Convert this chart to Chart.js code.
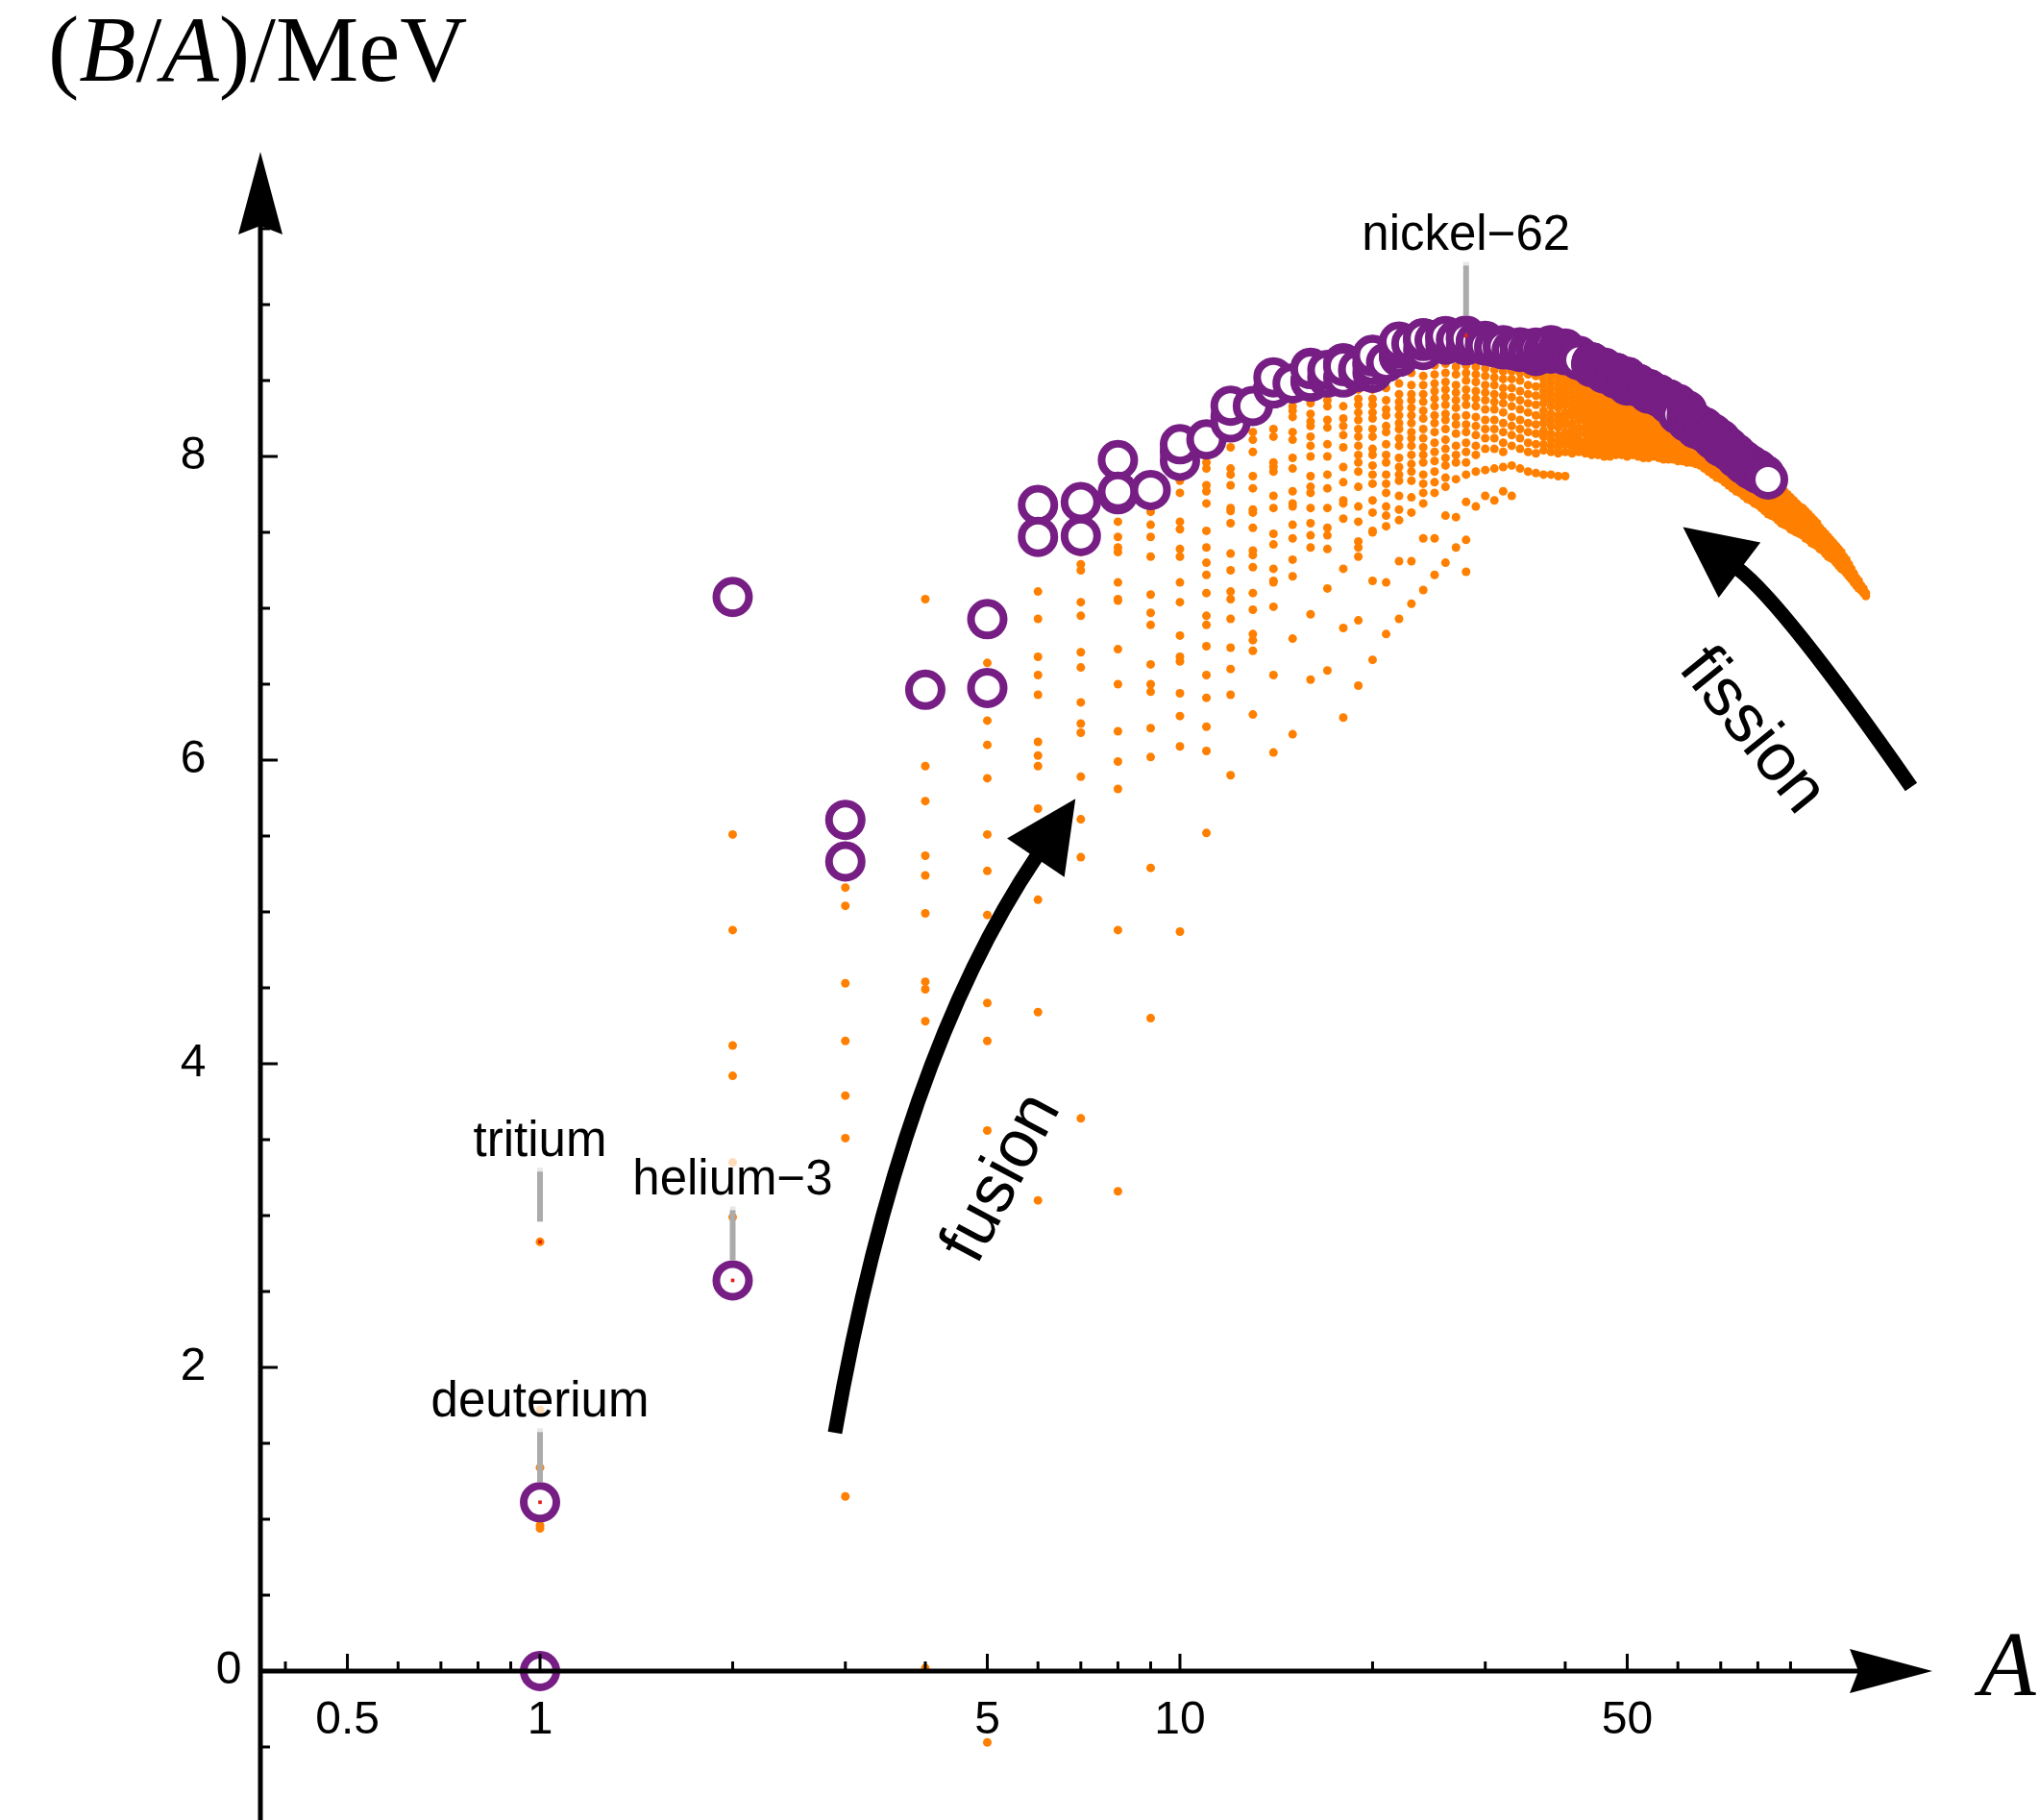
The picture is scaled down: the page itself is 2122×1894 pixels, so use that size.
<!DOCTYPE html>
<html>
<head>
<meta charset="utf-8">
<script src="https://cdn.jsdelivr.net/npm/chart.js@4.4.1/dist/chart.umd.min.js"></script>
<style>
  html, body { margin: 0; padding: 0; background: #ffffff; }
  #wrap { width: 2122px; height: 1894px; }
</style>
</head>
<body>
<div id="wrap"><canvas id="chart" width="2122" height="1894"></canvas></div>
<script>
// ── BINDING ENERGY PER NUCLEON vs Z (log axis) ──
// orange = every listed isotope, purple ring = stable isotopes, red = called-out nuclides

// ── ALL ISOTOPES, B/A in MeV, one row per element (row index = Z - 1) ──
const isotopesLight = [
  [0, 1.112, 2.827, 1.72, 1.34, 0.96, 0.94],                                   // 1
  [2.573, 7.074, 5.51, 4.88, 4.12, 3.92, 3.35, 2.99],                          // 2
  [1.15, 5.27, 5.332, 5.606, 5.16, 5.04, 4.53, 4.15, 3.79, 3.51],              // 3
  [0.02, 4.49, 5.37, 7.06, 6.463, 6.50, 5.96, 5.73, 5.24, 4.99, 4.54, 4.28],   // 4
  [6.475, 6.928, 6.64, 6.26, 6.496, 6.10, 5.88, 5.51, 5.27, 4.98, 4.40, 4.15, 3.56, -0.47], // 5
  [7.680, 7.470, 7.52, 7.11, 6.93, 6.68, 6.56, 6.43, 6.12, 6.03, 5.96, 5.68, 5.08, 4.34, 3.10], // 6
  [7.476, 7.699, 7.37, 7.29, 7.25, 7.04, 6.95, 6.71, 6.61, 6.38, 6.24, 6.18, 5.89, 5.61, 5.36, 3.64], // 7
  [7.976, 7.751, 7.767, 7.57, 7.47, 7.40, 7.37, 7.17, 7.06, 7.05, 6.73, 6.50, 6.19, 5.99, 5.81, 4.88, 3.16], // 8
  [7.779, 7.72, 7.74, 7.635, 7.55, 7.47, 7.34, 7.09, 6.97, 6.89, 6.63, 6.50, 6.45, 6.21, 6.02, 5.29, 4.30], // 9
  [8.032, 7.972, 8.080, 7.99, 7.955, 7.84, 7.76, 7.57, 7.52, 7.39, 7.34, 7.17, 7.04, 6.82, 6.68, 6.65, 6.44, 6.29, 6.09, 4.87], // 10
  [8.112, 8.06, 7.96, 7.92, 7.81, 7.77, 7.69, 7.51, 7.40, 7.30, 7.22, 7.10, 6.95, 6.89, 6.75, 6.56, 6.41, 6.22, 6.06, 5.52], // 11
  [8.261, 8.224, 8.334, 8.27, 8.06, 7.92, 7.88, 7.81, 7.66, 7.64, 7.56, 7.36, 7.25, 7.11, 7.06, 6.93, 6.74, 6.60, 6.43, 5.90], // 12
  [8.332, 8.16, 8.11, 8.03, 7.87, 7.79, 7.65, 7.63, 7.53, 7.38, 7.35, 7.27, 7.10, 6.99, 6.83, 6.79, 6.72, 6.30], // 13
  [8.448, 8.449, 8.521, 8.18, 8.13, 7.96, 7.93, 7.90, 7.74, 7.66, 7.49, 7.42, 7.26, 7.18, 7.17, 7.01, 6.56, 6.05], // 14
  [8.481, 8.33, 8.30, 8.26, 8.16, 8.11, 7.99, 7.92, 7.77, 7.69, 7.67, 7.55, 7.46, 7.32, 7.21, 6.80, 6.17], // 15
  [8.493, 8.498, 8.584, 8.575, 8.35, 8.28, 8.23, 8.20, 8.13, 8.07, 8.00, 7.87, 7.80, 7.76, 7.66, 7.56, 7.48, 7.40, 6.96, 6.53], // 16
  [8.520, 8.570, 8.37, 8.33, 8.24, 8.19, 8.08, 8.00, 7.88, 7.79, 7.66, 7.53, 7.48, 7.39, 7.13, 6.59], // 17
  [8.520, 8.614, 8.595, 8.33, 8.25, 8.20, 8.14, 8.06, 7.93, 7.83, 7.71, 7.69, 7.59, 7.26, 6.87, 6.28]  // 18
];

const isotopesMiddle = [
  [8.58, 8.56, 8.55, 8.54, 8.52, 8.44, 8.38, 8.34, 8.29, 8.24, 8.18, 8.13, 8.07, 8.01, 7.96, 7.90, 7.80, 7.67, 7.57, 7.44, 7.40, 7.34, 6.92, 6.49], // 19
  [8.67, 8.66, 8.62, 8.60, 8.55, 8.49, 8.44, 8.38, 8.34, 8.29, 8.25, 8.18, 8.13, 8.05, 8.01, 7.94, 7.88, 7.82, 7.71, 7.63, 7.51, 7.50, 7.18, 6.66], // 20
  [8.62, 8.60, 8.56, 8.52, 8.45, 8.37, 8.31, 8.27, 8.20, 8.16, 8.08, 8.01, 7.96, 7.88, 7.82, 7.76, 7.67, 7.61, 7.54, 7.17, 6.83], // 21
  [8.76, 8.72, 8.66, 8.60, 8.55, 8.48, 8.41, 8.36, 8.32, 8.27, 8.22, 8.18, 8.12, 8.07, 7.99, 7.93, 7.88, 7.84, 7.74, 7.65, 7.58, 7.31, 6.93], // 22
  [8.74, 8.70, 8.62, 8.55, 8.47, 8.41, 8.37, 8.32, 8.27, 8.22, 8.16, 8.12, 8.07, 8.01, 7.95, 7.90, 7.84, 7.73, 7.63, 7.31, 7.03], // 23
  [8.78, 8.73, 8.70, 8.66, 8.60, 8.53, 8.47, 8.41, 8.36, 8.30, 8.25, 8.18, 8.12, 8.06, 8.01, 7.96, 7.88, 7.82, 7.76, 7.69, 7.46, 7.12], // 24
  [8.77, 8.75, 8.72, 8.67, 8.60, 8.54, 8.48, 8.43, 8.38, 8.33, 8.27, 8.22, 8.16, 8.09, 8.03, 7.97, 7.90, 7.83, 7.76, 7.46, 7.22], // 25
  [8.79, 8.76, 8.74, 8.67, 8.61, 8.55, 8.49, 8.44, 8.39, 8.34, 8.28, 8.24, 8.18, 8.11, 8.05, 7.99, 7.94, 7.86, 7.80, 7.61, 7.30], // 26
  [8.77, 8.72, 8.66, 8.59, 8.54, 8.47, 8.42, 8.37, 8.32, 8.26, 8.21, 8.15, 8.07, 8.01, 7.96, 7.85, 7.60, 7.40], // 27
  [8.80, 8.78, 8.77, 8.73, 8.70, 8.65, 8.60, 8.55, 8.50, 8.44, 8.39, 8.34, 8.27, 8.21, 8.16, 8.09, 8.03, 7.96, 7.88, 7.70, 7.45, 7.24], // 28
  [8.75, 8.70, 8.64, 8.59, 8.54, 8.49, 8.43, 8.38, 8.33, 8.26, 8.20, 8.14, 8.07, 8.01, 7.90, 7.67], // 29
  [8.76, 8.74, 8.70, 8.64, 8.58, 8.53, 8.47, 8.42, 8.37, 8.31, 8.24, 8.18, 8.12, 8.05, 7.91, 7.74], // 30
  [8.72, 8.68, 8.63, 8.57, 8.52, 8.47, 8.41, 8.36, 8.31, 8.24, 8.18, 8.12, 8.05, 7.92, 7.71], // 31
  [8.72, 8.68, 8.62, 8.56, 8.51, 8.45, 8.40, 8.35, 8.29, 8.22, 8.16, 8.09, 8.03, 7.93, 7.77], // 32
  [8.70, 8.67, 8.62, 8.56, 8.51, 8.45, 8.39, 8.33, 8.26, 8.20, 8.14, 8.07, 7.94, 7.74], // 33
  [8.72, 8.70, 8.66, 8.61, 8.55, 8.50, 8.43, 8.37, 8.31, 8.24, 8.18, 8.12, 8.05, 7.92], // 34
  [8.70, 8.65, 8.60, 8.54, 8.47, 8.41, 8.35, 8.29, 8.22, 8.16, 8.09, 8.03, 7.90], // 35
  [8.72, 8.69, 8.64, 8.59, 8.53, 8.46, 8.40, 8.34, 8.27, 8.21, 8.15, 8.08, 8.02, 7.89], // 36
  [8.71, 8.70, 8.68, 8.65, 8.62, 8.58, 8.55, 8.51, 8.47, 8.43, 8.39, 8.35, 8.30, 8.26, 8.22, 8.17, 8.13, 8.08, 8.04, 7.88], // 37
  [8.73, 8.71, 8.70, 8.68, 8.65, 8.61, 8.57, 8.53, 8.49, 8.45, 8.41, 8.37, 8.33, 8.28, 8.24, 8.20, 8.15, 8.11, 8.07, 8.03, 7.88], // 38
  [8.71, 8.69, 8.66, 8.63, 8.60, 8.56, 8.52, 8.48, 8.44, 8.40, 8.36, 8.32, 8.27, 8.23, 8.19, 8.14, 8.10, 8.06, 8.02, 7.87], // 39
  [8.71, 8.69, 8.67, 8.64, 8.61, 8.58, 8.54, 8.50, 8.46, 8.42, 8.38, 8.34, 8.29, 8.25, 8.21, 8.16, 8.12, 8.08, 8.03, 7.87], // 40
  [8.66, 8.64, 8.61, 8.58, 8.54, 8.50, 8.47, 8.43, 8.39, 8.35, 8.31, 8.27, 8.22, 8.18, 8.14, 8.10, 8.06, 8.02], // 41
  [8.66, 8.65, 8.64, 8.61, 8.58, 8.55, 8.52, 8.48, 8.44, 8.40, 8.36, 8.32, 8.28, 8.24, 8.19, 8.15, 8.11, 8.07, 8.03], // 42
  [8.62, 8.60, 8.57, 8.54, 8.51, 8.47, 8.43, 8.39, 8.35, 8.31, 8.27, 8.23, 8.19, 8.15, 8.10, 8.06, 8.02], // 43
  [8.62, 8.61, 8.60, 8.58, 8.55, 8.52, 8.48, 8.45, 8.41, 8.37, 8.33, 8.29, 8.25, 8.21, 8.17, 8.13, 8.09, 8.05, 8.01], // 44
  [8.58, 8.56, 8.53, 8.50, 8.47, 8.43, 8.40, 8.36, 8.32, 8.28, 8.24, 8.20, 8.16, 8.12, 8.08, 8.04, 8.01], // 45
  [8.59, 8.58, 8.57, 8.55, 8.52, 8.49, 8.46, 8.42, 8.39, 8.35, 8.31, 8.27, 8.23, 8.19, 8.15, 8.11, 8.07, 8.03, 8.00], // 46
  [8.55, 8.53, 8.50, 8.47, 8.44, 8.41, 8.37, 8.34, 8.30, 8.26, 8.22, 8.18, 8.14, 8.10, 8.06, 8.02, 8.00], // 47
  [8.55, 8.54, 8.53, 8.51, 8.49, 8.46, 8.43, 8.40, 8.36, 8.33, 8.29, 8.25, 8.21, 8.17, 8.13, 8.09, 8.05, 8.01], // 48
  [8.52, 8.50, 8.48, 8.45, 8.42, 8.39, 8.36, 8.32, 8.29, 8.25, 8.21, 8.17, 8.13, 8.09, 8.05, 8.01], // 49
  [8.52, 8.51, 8.50, 8.48, 8.46, 8.44, 8.41, 8.38, 8.35, 8.31, 8.28, 8.24, 8.20, 8.16, 8.12, 8.08, 8.04, 8.00], // 50
  [8.48, 8.46, 8.44, 8.41, 8.38, 8.35, 8.32, 8.28, 8.25, 8.21, 8.17, 8.13, 8.09, 8.05, 8.01], // 51
  [8.48, 8.47, 8.46, 8.44, 8.41, 8.38, 8.35, 8.32, 8.29, 8.25, 8.21, 8.17, 8.13, 8.09, 8.05, 8.00], // 52
  [8.45, 8.43, 8.41, 8.38, 8.35, 8.32, 8.29, 8.25, 8.22, 8.18, 8.14, 8.10, 8.06, 8.03, 7.99], // 53
  [8.44, 8.43, 8.42, 8.40, 8.37, 8.34, 8.31, 8.28, 8.24, 8.21, 8.17, 8.13, 8.09, 8.05, 8.02, 7.99]  // 54
];

const isotopesHeavy = [
  [8.41, 8.40, 8.38, 8.35, 8.32, 8.29, 8.26, 8.22, 8.19, 8.15, 8.11, 8.08, 8.04, 8.00], // 55
  [8.41, 8.40, 8.39, 8.37, 8.34, 8.31, 8.28, 8.25, 8.21, 8.18, 8.14, 8.10, 8.07, 8.03, 7.99], // 56
  [8.38, 8.36, 8.34, 8.31, 8.28, 8.25, 8.22, 8.18, 8.15, 8.11, 8.08, 8.04, 8.01, 7.98], // 57
  [8.38, 8.37, 8.35, 8.32, 8.29, 8.26, 8.23, 8.19, 8.16, 8.12, 8.09, 8.05, 8.02, 7.98], // 58
  [8.35, 8.33, 8.31, 8.28, 8.25, 8.22, 8.18, 8.15, 8.12, 8.08, 8.05, 8.01, 7.98], // 59
  [8.35, 8.33, 8.31, 8.29, 8.26, 8.23, 8.20, 8.16, 8.13, 8.10, 8.06, 8.03, 8.00, 7.97], // 60
  [8.31, 8.29, 8.27, 8.24, 8.21, 8.18, 8.15, 8.12, 8.08, 8.05, 8.02, 7.99, 7.97], // 61
  [8.30, 8.29, 8.28, 8.26, 8.24, 8.21, 8.18, 8.15, 8.12, 8.09, 8.06, 8.03, 8.00, 7.96], // 62
  [8.26, 8.24, 8.22, 8.19, 8.16, 8.13, 8.10, 8.07, 8.04, 8.01, 7.98, 7.96], // 63
  [8.23, 8.22, 8.21, 8.19, 8.17, 8.14, 8.11, 8.08, 8.05, 8.02, 7.99, 7.95], // 64
  [8.20, 8.19, 8.17, 8.14, 8.11, 8.08, 8.05, 8.02, 7.99, 7.96, 7.94], // 65
  [8.19, 8.18, 8.17, 8.15, 8.13, 8.10, 8.07, 8.04, 8.01, 7.98, 7.95, 7.92], // 66
  [8.16, 8.15, 8.13, 8.10, 8.07, 8.04, 8.01, 7.98, 7.95, 7.92, 7.90], // 67
  [8.15, 8.14, 8.13, 8.11, 8.09, 8.06, 8.03, 8.00, 7.97, 7.94, 7.91, 7.88], // 68
  [8.12, 8.11, 8.09, 8.06, 8.03, 8.00, 7.97, 7.94, 7.91, 7.88, 7.86], // 69
  [8.11, 8.10, 8.09, 8.07, 8.05, 8.02, 7.99, 7.96, 7.93, 7.90, 7.87, 7.85], // 70
  [8.07, 8.06, 8.04, 8.01, 7.98, 7.95, 7.92, 7.89, 7.86, 7.83], // 71
  [8.07, 8.06, 8.05, 8.03, 8.01, 7.98, 7.95, 7.92, 7.89, 7.86, 7.83, 7.81], // 72
  [8.03, 8.02, 8.00, 7.97, 7.94, 7.91, 7.88, 7.85, 7.82, 7.79], // 73
  [8.03, 8.02, 8.01, 7.99, 7.97, 7.94, 7.91, 7.88, 7.85, 7.82, 7.79, 7.77], // 74
  [7.99, 7.98, 7.96, 7.93, 7.90, 7.87, 7.84, 7.81, 7.78, 7.76], // 75
  [7.98, 7.97, 7.96, 7.94, 7.92, 7.89, 7.86, 7.83, 7.80, 7.77, 7.74], // 76
  [7.95, 7.94, 7.92, 7.89, 7.86, 7.83, 7.80, 7.77, 7.74, 7.72], // 77
  [7.95, 7.94, 7.93, 7.91, 7.88, 7.85, 7.82, 7.79, 7.76, 7.73, 7.71], // 78
  [7.92, 7.91, 7.89, 7.86, 7.83, 7.80, 7.77, 7.74, 7.71, 7.69], // 79
  [7.91, 7.90, 7.89, 7.87, 7.84, 7.81, 7.78, 7.75, 7.72, 7.70, 7.68], // 80
  [7.89, 7.88, 7.86, 7.83, 7.80, 7.77, 7.74, 7.71, 7.68, 7.66], // 81
  [7.88, 7.87, 7.86, 7.84, 7.81, 7.78, 7.75, 7.72, 7.69, 7.66, 7.64], // 82
  [7.85, 7.84, 7.82, 7.79, 7.76, 7.73, 7.70, 7.67, 7.64, 7.62], // 83
  [7.84, 7.82, 7.79, 7.76, 7.73, 7.70, 7.67, 7.64, 7.61], // 84
  [7.82, 7.80, 7.77, 7.74, 7.71, 7.68, 7.65, 7.62, 7.60], // 85
  [7.81, 7.78, 7.75, 7.72, 7.69, 7.66, 7.63, 7.60, 7.58], // 86
  [7.79, 7.76, 7.73, 7.70, 7.67, 7.64, 7.61, 7.58, 7.56], // 87
  [7.77, 7.74, 7.71, 7.68, 7.65, 7.62, 7.59, 7.57, 7.55], // 88
  [7.75, 7.72, 7.69, 7.66, 7.63, 7.60, 7.57, 7.54], // 89
  [7.73, 7.70, 7.67, 7.64, 7.61, 7.58, 7.55, 7.52], // 90
  [7.71, 7.68, 7.65, 7.62, 7.59, 7.56, 7.53, 7.51], // 91
  [7.69, 7.66, 7.63, 7.60, 7.57, 7.54, 7.52, 7.50], // 92
  [7.67, 7.64, 7.61, 7.58, 7.55, 7.52, 7.49], // 93
  [7.66, 7.63, 7.60, 7.57, 7.54, 7.51, 7.48], // 94
  [7.64, 7.61, 7.58, 7.55, 7.52, 7.49, 7.46], // 95
  [7.62, 7.59, 7.56, 7.53, 7.50, 7.47, 7.45], // 96
  [7.60, 7.57, 7.54, 7.51, 7.48, 7.45, 7.43], // 97
  [7.58, 7.55, 7.52, 7.49, 7.46, 7.44, 7.42], // 98
  [7.56, 7.53, 7.50, 7.47, 7.44, 7.41], // 99
  [7.53, 7.50, 7.47, 7.44, 7.42, 7.39], // 100
  [7.51, 7.48, 7.45, 7.42, 7.40, 7.38], // 101
  [7.49, 7.46, 7.43, 7.40, 7.38, 7.36], // 102
  [7.47, 7.44, 7.41, 7.38, 7.36, 7.34], // 103
  [7.45, 7.42, 7.39, 7.36, 7.33], // 104
  [7.43, 7.40, 7.37, 7.34, 7.32], // 105
  [7.41, 7.38, 7.35, 7.32, 7.30], // 106
  [7.39, 7.36, 7.33, 7.30, 7.28], // 107
  [7.37, 7.34, 7.31, 7.28, 7.26], // 108
  [7.34, 7.31, 7.28, 7.25], // 109
  [7.32, 7.29, 7.26, 7.23], // 110
  [7.29, 7.26, 7.23, 7.21], // 111
  [7.26, 7.23, 7.21, 7.19], // 112
  [7.23, 7.20, 7.18, 7.17], // 113
  [7.20, 7.18, 7.16, 7.15], // 114
  [7.18, 7.16, 7.14, 7.13], // 115
  [7.15, 7.13, 7.12], // 116
  [7.13, 7.11, 7.10], // 117
  [7.10, 7.08]  // 118
];

// ── STABLE ISOTOPES, B/A in MeV (row index = Z - 1) ──
const stableLight = [
  [0, 1.112], [2.573, 7.074], [5.332, 5.606], [6.463], [6.475, 6.928],
  [7.680, 7.470], [7.476, 7.699], [7.976, 7.751, 7.767], [7.779], [8.032, 7.972, 8.080],
  [8.112], [8.261, 8.224, 8.334], [8.332], [8.448, 8.449, 8.521], [8.481],
  [8.493, 8.498, 8.584, 8.575], [8.520, 8.570], [8.520, 8.614, 8.595], [8.557, 8.576],
  [8.551, 8.617, 8.601, 8.658, 8.669, 8.666], [8.619], [8.656, 8.661, 8.723, 8.711, 8.756],
  [8.742], [8.701, 8.776, 8.760, 8.778], [8.765], [8.736, 8.790, 8.770, 8.792], [8.768],
  [8.732, 8.781, 8.765, 8.795, 8.777], [8.752, 8.757], [8.736, 8.760, 8.734, 8.756, 8.730],
  [8.725, 8.718], [8.722, 8.732, 8.705, 8.725], [8.701], [8.688, 8.711, 8.695, 8.718, 8.711],
  [8.688, 8.696], [8.661, 8.693, 8.711, 8.696, 8.717, 8.712], [8.697], [8.677, 8.708, 8.705, 8.733],
  [8.714], [8.710, 8.693, 8.693, 8.667], [8.664]
];
const stableHeavy = [
  [8.658, 8.662, 8.649, 8.654, 8.635, 8.635], [], [8.609, 8.620, 8.609, 8.619, 8.601, 8.607, 8.587],
  [8.584], [8.580, 8.585, 8.571, 8.580, 8.567, 8.547], [8.554, 8.548],
  [8.539, 8.550, 8.551, 8.537, 8.545, 8.532, 8.512], [8.523],
  [8.514, 8.523, 8.514, 8.523, 8.510, 8.517, 8.499, 8.505, 8.488, 8.467], [8.482, 8.472],
  [8.477, 8.478, 8.466, 8.473, 8.458, 8.463], [8.445],
  [8.438, 8.444, 8.443, 8.431, 8.438, 8.424, 8.428, 8.414], [8.410],
  [8.406, 8.409, 8.408, 8.397, 8.403, 8.392, 8.394], [8.378], [8.374, 8.377, 8.376, 8.347], [8.354],
  [8.346, 8.330, 8.309, 8.304, 8.277], [], [8.304, 8.280, 8.263, 8.262, 8.244, 8.227], [8.239, 8.229],
  [8.225, 8.213, 8.215, 8.204, 8.202, 8.183], [8.189], [8.192, 8.190, 8.184, 8.173, 8.173, 8.162, 8.159],
  [8.147], [8.152, 8.149, 8.142, 8.132, 8.130, 8.112], [8.114],
  [8.112, 8.107, 8.098, 8.097, 8.087, 8.084, 8.064], [8.069], [8.061, 8.052, 8.049, 8.039, 8.035],
  [8.023], [8.018, 8.008, 8.005, 7.989], [7.991], [7.975, 7.967, 7.974, 7.963, 7.963, 7.948],
  [7.948, 7.938], [7.942, 7.936, 7.927, 7.927, 7.914], [7.916],
  [7.914, 7.912, 7.905, 7.906, 7.898, 7.897, 7.886], [7.886, 7.878], [7.880, 7.875, 7.870, 7.868], [7.848]
];

// ── CALLED-OUT NUCLIDES ──
const calloutNames = ['deuterium', 'tritium', 'helium\u22123', 'nickel\u221262'];
const calloutZ     = [1, 1, 2, 28];
const calloutBA    = [1.112, 2.827, 2.573, 8.795];

// ── AXIS TICKS ──
const xMajorTicks = [0.5, 1, 5, 10, 50];
const xMinorTicks = [0.4, 0.6, 0.7, 0.8, 0.9, 2, 3, 4, 6, 7, 8, 9, 20, 30, 40, 60, 70, 80, 90];
const yMajorTicks = [2, 4, 6, 8];
const yMinorTicks = [-0.5, 0.5, 1, 1.5, 2.5, 3, 3.5, 4.5, 5, 5.5, 6.5, 7, 7.5, 8.5, 9, 9.5];

// ── FUSION / FISSION ARROWS (data coordinates: start, control, end of shaft) ──
const fusionArrow  = [[2.890, 1.570], [3.657, 4.035], [5.974, 5.367]];
const fissionArrow = [[138.9, 5.823], [87.7, 7.032], [74.5, 7.259]];
const arrowTexts   = [
  { text: 'fusion',  at: [5.28, 3.245], angle: -62 },
  { text: 'fission', at: [78.3, 6.19],  angle: 51 }
];

// ── COLORS ──
const ORANGE = '#ff8000';
const PURPLE = '#761e84';
const RED    = '#e0201c';

// ── POINT LISTS ──
const allRows = [...isotopesLight, ...isotopesMiddle, ...isotopesHeavy];
const stableRows = [...stableLight, ...stableHeavy];
const allPts = [];
allRows.forEach((row, i) => row.forEach(v => allPts.push({ x: i + 1, y: v })));
const stablePts = [];
stableRows.forEach((row, i) => row.forEach(v => stablePts.push({ x: i + 1, y: v })));
const calloutPts = calloutZ.map((z, i) => ({ x: z, y: calloutBA[i] }));

// ── DECORATION PLUGIN: callouts, axes with arrows, curved arrows ──
const SANS = '"Liberation Sans", Arial, sans-serif';
const SERIF = '"Liberation Serif", "Times New Roman", serif';

function arrowHead(ctx, x, y, ang) {
  ctx.save();
  ctx.translate(x, y);
  ctx.rotate(ang);
  ctx.beginPath();
  ctx.moveTo(0, 0);
  ctx.lineTo(-86, -23);
  ctx.lineTo(-77, 0);
  ctx.lineTo(-86, 23);
  ctx.closePath();
  ctx.fill();
  ctx.restore();
}

function curvedArrow(ctx, p0, c, p2) {
  ctx.lineWidth = 15;
  ctx.lineCap = 'butt';
  ctx.beginPath();
  ctx.moveTo(p0.x, p0.y);
  ctx.quadraticCurveTo(c.x, c.y, p2.x, p2.y);
  ctx.stroke();
  const dx = p2.x - c.x, dy = p2.y - c.y, L = Math.hypot(dx, dy);
  const ux = dx / L, uy = dy / L;
  const head = 72, half = 36;
  ctx.beginPath();
  ctx.moveTo(p2.x + ux * head, p2.y + uy * head);
  ctx.lineTo(p2.x - uy * half - ux * 2, p2.y + ux * half - uy * 2);
  ctx.lineTo(p2.x + uy * half - ux * 2, p2.y - ux * half - uy * 2);
  ctx.closePath();
  ctx.fill();
}

const decorations = {
  id: 'decorations',
  afterDatasetsDraw(chart) {
    const ctx = chart.ctx;
    const xs = chart.scales.x, ys = chart.scales.y;
    const P = (a) => ({ x: xs.getPixelForValue(a[0]), y: ys.getPixelForValue(a[1]) });
    const area = chart.chartArea;
    ctx.save();

    // callouts
    ctx.font = '51px ' + SANS;
    ctx.textAlign = 'center';
    ctx.textBaseline = 'alphabetic';
    calloutNames.forEach((name, i) => {
      const p = P([calloutZ[i], calloutBA[i]]);
      ctx.strokeStyle = '#ababab';
      ctx.lineWidth = 6;
      ctx.beginPath();
      ctx.moveTo(p.x, p.y - 21);
      ctx.lineTo(p.x, p.y - 77);
      ctx.stroke();
      const w = ctx.measureText(name).width;
      const base = p.y - 89;
      ctx.fillStyle = 'rgba(255,255,255,0.72)';
      ctx.fillRect(p.x - w / 2 - 6, base - 44, w + 12, 60);
      ctx.fillStyle = '#000';
      ctx.fillText(name, p.x, base);
    });

    // axes
    const y0 = ys.getPixelForValue(0);
    const xL = area.left;
    ctx.strokeStyle = '#000';
    ctx.fillStyle = '#000';
    ctx.lineWidth = 5;
    ctx.lineCap = 'butt';
    ctx.beginPath();
    ctx.moveTo(xL, y0);
    ctx.lineTo(area.right - 70, y0);
    ctx.moveTo(xL, area.bottom);
    ctx.lineTo(xL, area.top + 70);
    ctx.stroke();
    arrowHead(ctx, area.right, y0, 0);
    arrowHead(ctx, xL, area.top, -Math.PI / 2);

    ctx.lineWidth = 3;
    ctx.beginPath();
    xMajorTicks.forEach(v => { const x = xs.getPixelForValue(v); ctx.moveTo(x, y0); ctx.lineTo(x, y0 - 18); });
    xMinorTicks.forEach(v => { const x = xs.getPixelForValue(v); ctx.moveTo(x, y0); ctx.lineTo(x, y0 - 10); });
    yMajorTicks.forEach(v => { const y = ys.getPixelForValue(v); ctx.moveTo(xL, y); ctx.lineTo(xL + 18, y); });
    yMinorTicks.forEach(v => { const y = ys.getPixelForValue(v); ctx.moveTo(xL, y); ctx.lineTo(xL + 10, y); });
    ctx.stroke();

    // tick labels
    ctx.font = '48px ' + SANS;
    ctx.textAlign = 'center';
    ctx.textBaseline = 'middle';
    xMajorTicks.forEach(v => ctx.fillText(String(v), xs.getPixelForValue(v), y0 + 52));
    yMajorTicks.forEach(v => ctx.fillText(String(v), xL - 70, ys.getPixelForValue(v)));
    ctx.fillText('0', xL - 33, y0);

    // axis titles
    ctx.textAlign = 'left';
    ctx.textBaseline = 'alphabetic';
    let tx = 50;
    [['(', ''], ['B', 'italic '], ['/', ''], ['A', 'italic '], [')/MeV', '']].forEach(([s, st]) => {
      ctx.font = st + '97px ' + SERIF;
      ctx.fillText(s, tx, 84);
      tx += ctx.measureText(s).width;
    });
    ctx.font = 'italic 96px ' + SERIF;
    ctx.fillText('A', 2060, 1764);

    // fusion / fission arrows
    ctx.strokeStyle = '#000';
    ctx.fillStyle = '#000';
    [fusionArrow, fissionArrow].forEach(a => curvedArrow(ctx, P(a[0]), P(a[1]), P(a[2])));
    ctx.font = '70px ' + SANS;
    ctx.textAlign = 'center';
    ctx.textBaseline = 'middle';
    arrowTexts.forEach(t => {
      const p = P(t.at);
      ctx.save();
      ctx.translate(p.x, p.y);
      ctx.rotate(t.angle * Math.PI / 180);
      ctx.fillText(t.text, 0, 0);
      ctx.restore();
    });

    ctx.restore();
  }
};

// ── CHART ──
new Chart(document.getElementById('chart').getContext('2d'), {
  type: 'scatter',
  data: {
    datasets: [
      { label: 'called out', data: calloutPts, order: 1, clip: false,
        pointStyle: 'rect', pointRadius: 2.6, backgroundColor: RED, borderWidth: 0 },
      { label: 'stable', data: stablePts, order: 2, clip: false,
        pointRadius: 17, borderWidth: 8, borderColor: PURPLE, backgroundColor: '#ffffff' },
      { label: 'all isotopes', data: allPts, order: 3, clip: false,
        pointRadius: 4.5, borderWidth: 0, backgroundColor: ORANGE }
    ]
  },
  options: {
    responsive: false,
    animation: false,
    devicePixelRatio: 1,
    events: [],
    layout: { autoPadding: false, padding: { left: 271, right: 111, top: 158, bottom: 0 } },
    plugins: { legend: { display: false }, tooltip: { enabled: false } },
    scales: {
      x: { type: 'logarithmic', min: 0.3656, max: 149.9, display: false },
      y: { type: 'linear', min: -0.981, max: 10.006, display: false }
    }
  },
  plugins: [decorations]
});
</script>
</body>
</html>
